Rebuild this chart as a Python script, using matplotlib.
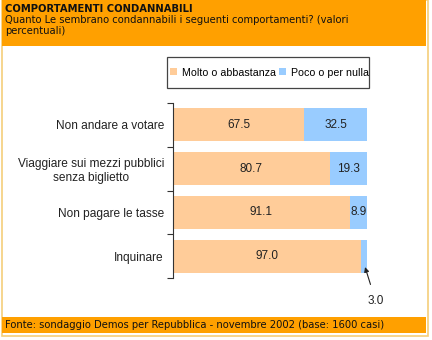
import matplotlib
matplotlib.use("Agg")
import matplotlib.pyplot as plt
from matplotlib.patches import Rectangle

categories = ["Non andare a votare", "Viaggiare sui mezzi pubblici\nsenza biglietto",
              "Non pagare le tasse", "Inquinare"]
molto = [67.5, 80.7, 91.1, 97.0]
poco = [32.5, 19.3, 8.9, 3.0]
series_names = ["Molto o abbastanza", "Poco o per nulla"]

title = "COMPORTAMENTI CONDANNABILI"
subtitle = "Quanto Le sembrano condannabili i seguenti comportamenti? (valori\npercentuali)"
source = "Fonte: sondaggio Demos per Repubblica - novembre 2002 (base: 1600 casi)"

c_molto = "#FFCC99"
c_poco = "#99CCFF"
orange = "#FFA000"
border = "#F5CE7A"

W, H = 432, 340
fig = plt.figure(figsize=(W / 100, H / 100), dpi=100)
fig.patch.set_facecolor("white")

def fx(px):
    return px / W

def fy(py):
    return 1 - py / H

# frame and bands
fig.patches.append(Rectangle((fx(2), fy(336)), fx(426) - fx(0), fy(0) - fy(336),
                             transform=fig.transFigure, facecolor="white",
                             edgecolor=border, linewidth=1.2, zorder=-2))
fig.patches.append(Rectangle((fx(2), fy(46)), fx(424), fy(0) - fy(46),
                             transform=fig.transFigure, facecolor=orange,
                             edgecolor="none", zorder=-1))
fig.patches.append(Rectangle((fx(2), fy(333)), fx(424), fy(317) - fy(333),
                             transform=fig.transFigure, facecolor=orange,
                             edgecolor="none", zorder=-1))
# legend frame
fig.patches.append(Rectangle((fx(167), fy(88)), fx(369) - fx(167), fy(57) - fy(88),
                             transform=fig.transFigure, facecolor="white",
                             edgecolor="#444444", linewidth=0.9, zorder=-1))

hfont = ["DejaVu Sans"]
fig.text(fx(5), fy(4), title, fontsize=7.2, fontweight="bold", family=hfont,
         va="top", ha="left", color="#111111")
fig.text(fx(5), fy(15), subtitle, fontsize=7.2, family=hfont, va="top", ha="left",
         color="#111111", linespacing=1.15)
fig.text(fx(5), fy(325.5), source, fontsize=7.2, family=hfont, va="center", ha="left",
         color="#111111")

ax = fig.add_axes([fx(173), fy(278), fx(367) - fx(173), fy(103) - fy(278)])
ax.set_zorder(3)
ax.set_facecolor("none")
y = list(range(len(categories)))
ax.barh(y, molto, height=0.75, color=c_molto, label=series_names[0])
ax.barh(y, poco, left=molto, height=0.75, color=c_poco, label=series_names[1])
ax.set_xlim(0, 100)
ax.set_ylim(len(categories) - 0.5, -0.5)

lfont = ["Liberation Sans"]
for i in range(len(categories)):
    ax.text(molto[i] / 2, i, f"{molto[i]:.1f}", ha="center", va="center",
            fontsize=8.5, family=lfont, color="#222222")
    if poco[i] >= 5:
        ax.text(molto[i] + poco[i] / 2, i, f"{poco[i]:.1f}", ha="center", va="center",
                fontsize=8.5, family=lfont, color="#222222")
    else:
        ax.annotate(f"{poco[i]:.1f}", xy=(molto[i] + poco[i] / 2 + 0.5, i + 0.25),
                    xytext=(molto[i] + poco[i] / 2 + 6, i + 1.03),
                    ha="center", va="center", fontsize=8.5, family=lfont, color="#222222",
                    arrowprops=dict(arrowstyle="-|>", color="#222222", lw=0.8,
                                    shrinkA=6, shrinkB=0, mutation_scale=7),
                    annotation_clip=False)

for s in ["top", "right", "bottom"]:
    ax.spines[s].set_visible(False)
ax.spines["left"].set_color("#333333")
ax.spines["left"].set_linewidth(0.8)
ax.set_xticks([])
ax.set_yticks([i - 0.5 for i in range(len(categories) + 1)])
ax.set_yticklabels([])
ax.tick_params(axis="y", length=4, color="#333333", width=0.8)
ax.set_yticks(y, minor=True)
ax.set_yticklabels(categories, minor=True, fontsize=8.6, family=lfont, color="#222222")
ax.tick_params(axis="y", which="minor", length=0, pad=6.5)
for lab in ax.get_yticklabels(minor=True):
    lab.set_multialignment("center")

leg = fig.legend(loc="center left", bbox_to_anchor=(fx(170), fy(72.5)), ncol=2,
                 prop={"family": "Liberation Sans", "size": 7.7},
                 frameon=False, handlelength=0.65, handleheight=0.65,
                 handletextpad=0.45, columnspacing=0.3, borderpad=0, borderaxespad=0)
leg.set_zorder(4)

fig.savefig("out.png", dpi=100, facecolor="white")
